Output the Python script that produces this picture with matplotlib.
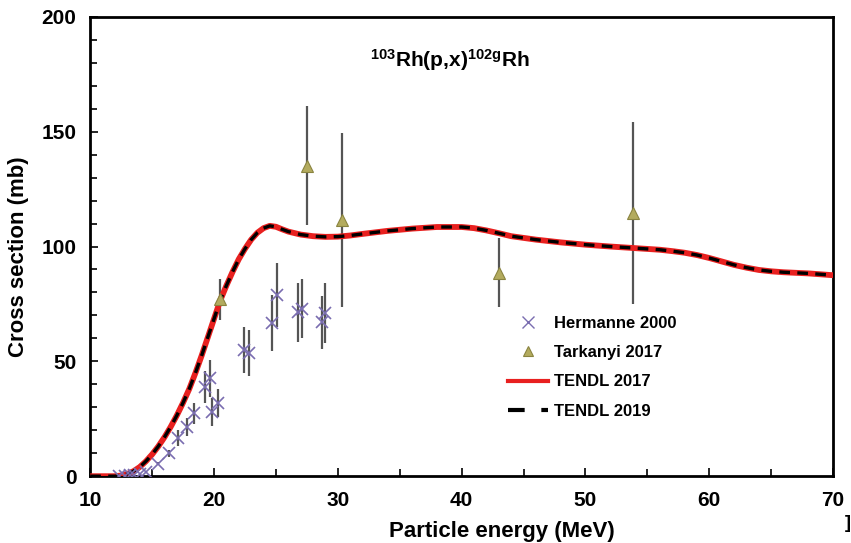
import numpy as np
import matplotlib.pyplot as plt

plt.rcParams['font.family'] = ['Liberation Sans', 'DejaVu Sans']
plt.rcParams['font.weight'] = 'bold'
plt.rcParams['mathtext.fontset'] = 'custom'
plt.rcParams['mathtext.rm'] = 'Liberation Sans:bold'
plt.rcParams['mathtext.it'] = 'Liberation Sans:bold'
plt.rcParams['mathtext.bf'] = 'Liberation Sans:bold'

# TENDL curves
e_tendl = [10, 11, 12, 12.5, 13, 13.5, 14, 14.5, 15, 15.5, 16, 16.5, 17, 17.5,
           18, 18.5, 19, 19.5, 20, 20.5, 21, 21.5, 22, 22.5, 23, 23.5, 24, 24.5,
           25, 25.5, 26, 27, 28, 29, 30, 31, 32, 34, 36, 38, 40, 41, 42, 43, 44,
           46, 48, 50, 52, 54, 56, 57, 58, 59, 60, 61, 62, 63, 64, 65, 66, 68, 70]
tendl17 = [0, 0, 0, 0.3, 1, 2.2, 4, 6.5, 9.5, 13, 17, 21.5, 26.5, 32,
           38, 45, 52.5, 60.5, 68.5, 76.5, 83, 89, 94.5, 99, 103, 106, 108, 109,
           108.6, 107.5, 106.5, 105.2, 104.5, 104.2, 104.3, 104.8, 105.5, 106.8,
           107.8, 108.5, 108.5, 108, 107, 105.8, 104.5, 103, 101.8, 100.8, 100,
           99.3, 98.6, 98, 97.3, 96.3, 95, 93.5, 92, 90.8, 89.8, 89.2, 88.8, 88.3, 87.5]
tendl19 = list(tendl17)

# Hermanne 2000
e_her = [12.3, 12.8, 13.2, 13.5, 14.0, 14.5, 15.5, 16.4, 17.1, 17.8, 18.4,
         19.3, 19.7, 19.8, 20.3, 22.4, 22.8, 24.7, 25.1, 26.8, 27.1, 28.7, 29.0]
s_her = [0.2, 0.3, 0.4, 0.6, 1.0, 2.0, 5.5, 10, 16.5, 21.4, 27.4,
         38.8, 42.7, 28, 31.8, 55, 53.5, 66.7, 78.8, 71.3, 73, 67, 71]
d_her = [0, 0, 0, 0, 0, 0, 0.5, 1.5, 3.5, 4, 4.5,
         7, 8, 6, 6, 10, 10, 12, 14, 13, 13, 11.5, 13]

# Tarkanyi 2017
e_tar = [20.5, 27.5, 30.3, 43.0, 53.8]
s_tar = [77, 135.2, 111.5, 88.5, 114.5]
d_tar = [9, 26, 38, 15, 39.5]

W, H = 851, 543
fig = plt.figure(figsize=(8.51, 5.43), dpi=100)
ax = fig.add_axes([0.106, 0.123, 0.873, 0.846])

ax.errorbar(e_her, s_her, yerr=d_her, fmt='none', ecolor='#555555',
            elinewidth=1.6, zorder=2)
ax.errorbar(e_tar, s_tar, yerr=d_tar, fmt='none', ecolor='#555555',
            elinewidth=1.6, zorder=2)
ax.plot(e_tendl, tendl17, color='#e8201f', lw=4.2, zorder=3,
        solid_capstyle='butt')
ax.plot(e_tendl, tendl19, color='black', lw=2.4, dashes=(3.2, 2.2), zorder=4)
ax.plot(e_her, s_her, 'x', color='#7a6db0', ms=9, mew=1.2, zorder=5)
ax.plot(e_tar, s_tar, '^', color='#b3ab5e', mec='#8a8440', ms=8, mew=0.8,
        zorder=5)

# legend handles
h1, = ax.plot([], [], 'x', color='#7a6db0', ms=8, mew=1.0)
h2, = ax.plot([], [], '^', color='#b3ab5e', mec='#8a8440', ms=7, mew=0.8)
h3, = ax.plot([], [], color='#e8201f', lw=3)
h4, = ax.plot([], [], color='black', lw=3, dashes=(4, 4))
fig.legend([h1, h2, h3, h4],
           ['Hermanne 2000', 'Tarkanyi 2017', 'TENDL 2017', 'TENDL 2019'],
           loc='upper left', bbox_to_anchor=(508 / W, 1 - 316 / H), frameon=False,
           borderpad=0, borderaxespad=0, handlelength=2.4, handletextpad=0.36,
           labelspacing=0.85, prop={'size': 12, 'weight': 'bold'})

ax.set_xlim(10, 70)
ax.set_ylim(0, 200)
ax.set_xticks(np.arange(10, 71, 10))
ax.set_xticks(np.arange(10, 71, 5), minor=True)
ax.set_yticks(np.arange(0, 201, 50))
ax.set_yticks(np.arange(0, 201, 10), minor=True)
ax.tick_params(which='both', direction='in', top=False, right=False,
               width=1.2, labelsize=15)
ax.tick_params(which='major', length=6)
ax.tick_params(which='minor', length=5)
ax.tick_params(axis='x', pad=11)
ax.tick_params(axis='y', pad=10)
for lab in ax.get_xticklabels() + ax.get_yticklabels():
    lab.set_fontweight('bold')
for sp in ax.spines.values():
    sp.set_linewidth(2)

fig.text(502 / W, 1 - 532 / H, 'Particle energy (MeV)', fontsize=16,
         fontweight='bold', ha='center', va='center')
fig.text(19 / W, 1 - 257 / H, 'Cross section (mb)', fontsize=16,
         fontweight='bold', ha='center', va='center', rotation=90)
ax.text((450 - 90) / 743, (476 - 60) / 459, r'$^{103}$Rh(p,x)$^{102g}$Rh',
        transform=ax.transAxes, ha='center', va='center', fontsize=15,
        fontweight='bold')
fig.text(0.993, 0.02, ']', fontsize=13, ha='left', va='bottom')

plt.savefig('out.png', dpi=100)
